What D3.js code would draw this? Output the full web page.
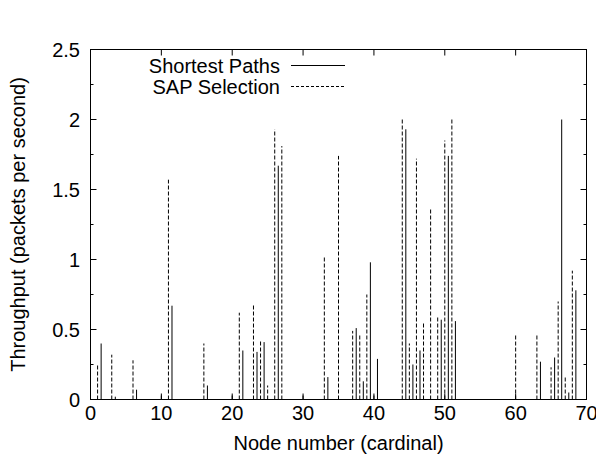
<!DOCTYPE html>
<html>
<head>
<meta charset="utf-8">
<script src="https://cdn.jsdelivr.net/npm/d3@7/dist/d3.min.js"></script>
<style>
  html, body { margin: 0; padding: 0; background: #fff; }
  svg { display: block; }
  text { font-family: "Liberation Sans", Arial, Helvetica, sans-serif; fill: #000; }
</style>
</head>
<body>
<svg id="chart" width="596" height="466"></svg>
<script>
// ---- Data ----
const nodes = [1,3,6,10,11,16,20,21,23,24,25,26,27,30,33,35,37,38,39,40,44,45,46,47,48,49,50,51,60,63,65,66,67,68];
const sapSelection = [0.25,0.32,0.28,0.03,1.57,0.40,0.04,0.62,0.68,0.42,0.10,1.93,1.81,0.04,1.02,1.74,0.49,0.47,0.75,0.04,2.00,0.40,1.72,0.55,1.37,0.59,1.85,2.00,0.46,0.47,0.23,0.70,0.17,0.92];
const shortestPaths = [0.40,0.02,0.07,0,0.67,0.10,0,0.35,0.34,0.41,0,1.67,0,0,0.16,0,0.51,0.13,0.98,0.29,1.93,0.25,0.35,0,0,0.57,1.74,0.56,0,0.27,0.30,2.00,0.05,0.78];
const xTicks = [0,10,20,30,40,50,60,70];
const yTicks = [0,0.5,1,1.5,2,2.5];
const yMinorTicks = [0.25,0.75,1.25,1.75,2.25];
const seriesNames = ["Shortest Paths", "SAP Selection"];
const spOffset = 0.5;

// ---- Layout ----
const L = 90.5, R = 586.5, T = 49.5, B = 399.5;
const svg = d3.select("#chart");
const x = d3.scaleLinear().domain([0,70]).range([L,R]);
const y = d3.scaleLinear().domain([0,2.5]).range([B,T]);
const fs = 20;
const major = 6, minor = 3;

// Impulses
const g = svg.append("g");
g.selectAll("line.sap").data(nodes.map((n,i)=>({n, v:sapSelection[i]})).filter(d=>d.v>0))
  .enter().append("line")
  .attr("x1", d=>x(d.n)).attr("x2", d=>x(d.n))
  .attr("y1", y(0)).attr("y2", d=>y(d.v))
  .attr("stroke","#000").attr("stroke-width",1).attr("stroke-dasharray","4,2");
g.selectAll("line.sp").data(nodes.map((n,i)=>({n, v:shortestPaths[i]})).filter(d=>d.v>0))
  .enter().append("line")
  .attr("x1", d=>x(d.n+spOffset)).attr("x2", d=>x(d.n+spOffset))
  .attr("y1", y(0)).attr("y2", d=>y(d.v))
  .attr("stroke","#000").attr("stroke-width",1);

// Axes (ticks inside, mirrored)
const ax = svg.append("g").attr("stroke","#000").attr("stroke-width",1);
xTicks.forEach(t=>{
  ax.append("line").attr("x1",x(t)).attr("x2",x(t)).attr("y1",B).attr("y2",B-major);
  ax.append("line").attr("x1",x(t)).attr("x2",x(t)).attr("y1",T).attr("y2",T+major);
});
yTicks.forEach(t=>{
  ax.append("line").attr("x1",L).attr("x2",L+major).attr("y1",y(t)).attr("y2",y(t));
  ax.append("line").attr("x1",R).attr("x2",R-major).attr("y1",y(t)).attr("y2",y(t));
});
yMinorTicks.forEach(t=>{
  ax.append("line").attr("x1",L).attr("x2",L+minor).attr("y1",y(t)).attr("y2",y(t));
  ax.append("line").attr("x1",R).attr("x2",R-minor).attr("y1",y(t)).attr("y2",y(t));
});
ax.append("rect").attr("x",L).attr("y",T).attr("width",R-L).attr("height",B-T).attr("fill","none");

// Tick labels
svg.append("g").selectAll("text").data(xTicks).enter().append("text")
  .attr("x", d=>x(d)).attr("y", 420).attr("text-anchor","middle").attr("font-size",fs)
  .text(d=>d3.format("d")(d));
svg.append("g").selectAll("text").data(yTicks).enter().append("text")
  .attr("x", 80).attr("y", d=>y(d)+7).attr("text-anchor","end").attr("font-size",fs)
  .text(d=>String(d));

// Axis titles
svg.append("text").attr("x",(L+R)/2).attr("y",450).attr("text-anchor","middle").attr("font-size",fs)
  .text("Node number (cardinal)");
svg.append("text").attr("transform",`translate(25,${(T+B)/2}) rotate(-90)`).attr("text-anchor","middle").attr("font-size",fs)
  .text("Throughput (packets per second)");

// Legend
const leg = svg.append("g");
const legRows = [{name:seriesNames[0], dash:null, yy:65.5},{name:seriesNames[1], dash:"4,2", yy:86.5}];
legRows.forEach(r=>{
  leg.append("text").attr("x",280).attr("y",r.yy+7).attr("text-anchor","end").attr("font-size",fs).text(r.name);
  const ln = leg.append("line").attr("x1",291).attr("x2",345).attr("y1",r.yy).attr("y2",r.yy)
    .attr("stroke","#000").attr("stroke-width",1);
  if (r.dash) ln.attr("stroke-dasharray", "3,2");
});
</script>
</body>
</html>
